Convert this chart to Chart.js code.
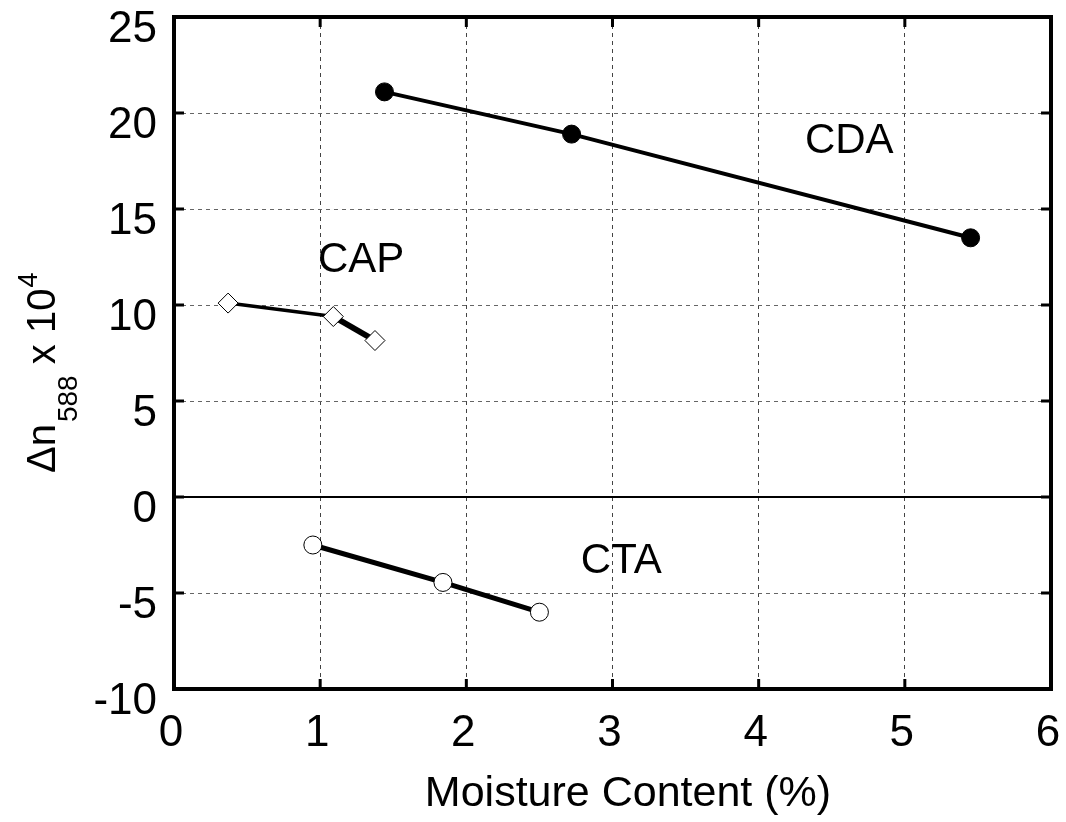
<!DOCTYPE html>
<html>
<head>
<meta charset="utf-8">
<script src="https://cdn.jsdelivr.net/npm/chart.js@4/dist/chart.umd.min.js"></script>
<style>
  html, body { margin: 0; padding: 0; background: #fff; }
</style>
</head>
<body>
<canvas id="chart" width="1066" height="822"></canvas>
<script>
const FONT = '"Liberation Sans", Arial, Helvetica, sans-serif';

// CDA (filled circles)
const CDA_X = [1.44, 2.72, 5.45];
const CDA_Y = [21.1, 18.9, 13.5];
// CAP (open diamonds)
const CAP_X = [0.37, 1.09, 1.375];
const CAP_Y = [10.1, 9.4, 8.15];
// CTA (open circles)
const CTA_X = [0.95, 1.84, 2.50];
const CTA_Y = [-2.5, -4.45, -6.0];

const X_TICKS = [0, 1, 2, 3, 4, 5, 6];
const Y_TICKS = [-10, -5, 0, 5, 10, 15, 20, 25];

const SERIES_NAMES = ['CDA', 'CAP', 'CTA'];
const NAME_X = [4.62, 1.28, 3.06];
const NAME_Y = [18.7, 12.5, -3.2];

const pts = (xs, ys) => xs.map((x, i) => ({ x: x, y: ys[i] }));

// frame, inward ticks on all sides, zero line, labels and axis titles
const framePlugin = {
  id: 'frame',
  beforeDatasetsDraw(chart) {
    const { ctx, chartArea: a, scales } = chart;
    const y0 = scales.y.getPixelForValue(0);
    ctx.save();
    ctx.strokeStyle = '#000';
    ctx.lineWidth = 2;
    ctx.beginPath();
    ctx.moveTo(a.left, y0);
    ctx.lineTo(a.right, y0);
    ctx.stroke();
    ctx.restore();
  },
  afterDatasetsDraw(chart) {
    const { ctx, chartArea: a, scales } = chart;
    const tl = 10;
    ctx.save();
    ctx.strokeStyle = '#000';
    ctx.lineWidth = 3;
    ctx.beginPath();
    X_TICKS.forEach((v) => {
      const px = scales.x.getPixelForValue(v);
      ctx.moveTo(px, a.bottom); ctx.lineTo(px, a.bottom - tl);
      ctx.moveTo(px, a.top); ctx.lineTo(px, a.top + tl);
    });
    Y_TICKS.forEach((v) => {
      const py = scales.y.getPixelForValue(v);
      ctx.moveTo(a.left, py); ctx.lineTo(a.left + tl, py);
      ctx.moveTo(a.right, py); ctx.lineTo(a.right - tl, py);
    });
    ctx.stroke();

    ctx.lineWidth = 4;
    ctx.strokeRect(a.left, a.top, a.right - a.left, a.bottom - a.top);

    // series names
    ctx.fillStyle = '#000';
    ctx.font = '42px ' + FONT;
    ctx.textAlign = 'center';
    ctx.textBaseline = 'alphabetic';
    SERIES_NAMES.forEach((name, i) => {
      const px = scales.x.getPixelForValue(NAME_X[i]);
      const py = scales.y.getPixelForValue(NAME_Y[i]);
      ctx.fillText(name, px, py + 15);
    });

    // x title
    ctx.font = '43px ' + FONT;
    ctx.fillText('Moisture Content (%)', 628, 806);

    // y title: Δn_588 x 10^4
    ctx.translate(55, 473);
    ctx.rotate(-Math.PI / 2);
    ctx.textAlign = 'left';
    let w = 0;
    ctx.font = '40px ' + FONT;
    ctx.fillText('\u0394n', w, 0);
    w += ctx.measureText('\u0394n').width;
    ctx.font = '28px ' + FONT;
    ctx.fillText('588', w + 2, 22);
    w += ctx.measureText('588').width + 2;
    ctx.font = '40px ' + FONT;
    ctx.fillText(' x 10', w, 0);
    w += ctx.measureText(' x 10').width;
    ctx.font = '27px ' + FONT;
    ctx.fillText('4', w + 1, -18);
    ctx.restore();
  }
};

new Chart(document.getElementById('chart').getContext('2d'), {
  type: 'scatter',
  data: {
    datasets: [
      {
        label: 'CDA',
        data: pts(CDA_X, CDA_Y),
        showLine: true,
        borderColor: '#000',
        borderWidth: 4,
        pointRadius: 9,
        pointBackgroundColor: '#000',
        pointBorderColor: '#000',
        pointBorderWidth: 1,
      },
      {
        label: 'CAP',
        data: pts(CAP_X, CAP_Y),
        showLine: true,
        borderColor: '#000',
        borderWidth: 3,
        segment: { borderWidth: (c) => (c.p0DataIndex === 0 ? 3.5 : 6) },
        pointStyle: 'rectRot',
        pointRadius: 10,
        pointBackgroundColor: '#fff',
        pointBorderColor: '#000',
        pointBorderWidth: 1,
      },
      {
        label: 'CTA',
        data: pts(CTA_X, CTA_Y),
        showLine: true,
        borderColor: '#000',
        borderWidth: 5,
        pointRadius: 9,
        pointBackgroundColor: '#fff',
        pointBorderColor: '#000',
        pointBorderWidth: 1,
      },
    ],
  },
  options: {
    responsive: false,
    animation: false,
    layout: { padding: { left: 0, top: 17, right: 15, bottom: 0 } },
    plugins: { legend: { display: false }, tooltip: { enabled: false } },
    scales: {
      x: {
        type: 'linear',
        min: 0,
        max: 6,
        afterBuildTicks: (s) => { s.ticks = X_TICKS.map((v) => ({ value: v })); },
        afterFit: (s) => { s.height = 133; s.paddingLeft = 0; s.paddingRight = 0; },
        ticks: {
          color: '#000',
          font: { family: FONT, size: 44 },
          padding: 18,
          labelOffset: -3,
          maxRotation: 0,
          autoSkip: false,
        },
        grid: {
          drawTicks: false,
          lineWidth: 1,
          color: (c) => (c.tick && (c.tick.value === 0 || c.tick.value === 6) ? 'rgba(0,0,0,0)' : '#444'),
        },
        border: { display: false, dash: [4, 4] },
      },
      y: {
        type: 'linear',
        min: -10,
        max: 25,
        afterBuildTicks: (s) => { s.ticks = Y_TICKS.map((v) => ({ value: v })); },
        afterFit: (s) => { s.width = 174; s.paddingTop = 0; s.paddingBottom = 0; },
        ticks: {
          color: '#000',
          font: { family: FONT, size: 44 },
          padding: 17,
          labelOffset: 13,
          autoSkip: false,
        },
        grid: {
          drawTicks: false,
          lineWidth: 1,
          color: (c) => (c.tick && [-10, 0, 25].includes(c.tick.value) ? 'rgba(0,0,0,0)' : '#666'),
        },
        border: { display: false, dash: [4, 4] },
      },
    },
  },
  plugins: [framePlugin],
});
</script>
</body>
</html>
